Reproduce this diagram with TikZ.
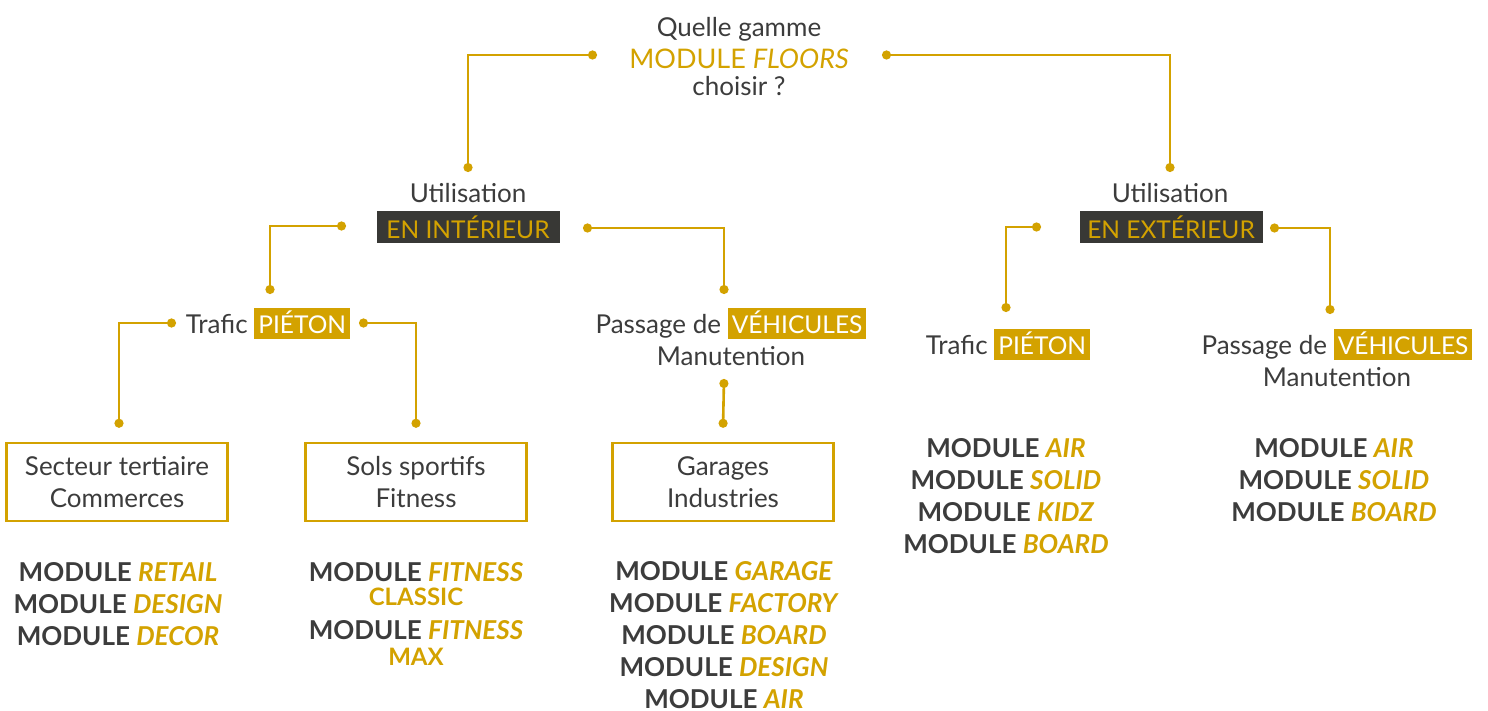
\documentclass[tikz,border=0pt]{standalone}
\usepackage{fontspec}
\setmainfont{Lato}
\usetikzlibrary{arrows.meta}
\definecolor{gold}{RGB}{211,162,0}
\definecolor{ink}{RGB}{60,60,60}
\definecolor{slate}{RGB}{56,56,53}
\newcommand{\hl}[1]{{\setlength{\fboxsep}{0pt}\colorbox{gold}{\hspace{4pt}\rule[-6pt]{0pt}{31pt}\fontsize{24.5}{32}\selectfont\color{white}#1\hspace{4pt}}}}
\newcommand{\modline}[1]{MODULE \textcolor{gold}{\textit{#1}}}
\newcommand{\subline}[1]{{\fontsize{24}{28}\selectfont\textcolor{gold}{#1}}}

\begin{document}
\begin{tikzpicture}[x=1pt,y=-1pt]
\tikzstyle{link}=[draw=gold, line width=2.6pt, {Circle[length=9pt]}-{Circle[length=9pt]}]
\tikzstyle{txt}=[text=ink, inner sep=0pt, align=center, font=\fontsize{26}{32}\selectfont]
\tikzstyle{tag}=[fill=slate, text=gold, inner sep=0pt, minimum width=183pt, minimum height=32pt, font=\fontsize{24.5}{32}\selectfont]
\tikzstyle{case}=[draw=gold, line width=2.5pt, text=ink, align=center, minimum width=221pt, minimum height=78pt, font=\fontsize{26}{32}\selectfont]
\tikzstyle{modlist}=[text=ink, inner sep=0pt, align=center, anchor=north, font=\bfseries\fontsize{26}{32}\selectfont]
\useasboundingbox (0,0) rectangle (1488,711);
\node[txt, anchor=base] (ask) at (739,37) {Quelle gamme};
\node[txt, anchor=base, text=gold, font=\fontsize{27}{32}\selectfont] (floors) at (739,69) {MODULE \textit{FLOORS}};
\node[txt, anchor=base] (pick) at (739,96) {choisir ?};
\node[txt, anchor=base] (useA) at (468,203) {Utilisation};
\node[tag] (inA) at (468,227) {EN INTÉRIEUR};
\node[txt, anchor=base] (useB) at (1170,203) {Utilisation};
\node[tag] (inB) at (1171,227) {EN EXTÉRIEUR};
\node[txt, anchor=north] (trafA) at (268,308) {Trafic \hl{PIÉTON}};
\node[txt, anchor=north] (passA) at (731,308) {Passage de \hl{VÉHICULES}\\Manutention};
\node[txt, anchor=north] (trafB) at (1008,329) {Trafic \hl{PIÉTON}};
\node[txt, anchor=north] (passB) at (1337,329) {Passage de \hl{VÉHICULES}\\Manutention};
\node[case] (secA) at (117,482) {Secteur tertiaire\\Commerces};
\node[case] (solA) at (416,482) {Sols sportifs\\Fitness};
\node[case] (garA) at (723,482) {Garages\\Industries};
\node[modlist] (secL) at (118,562) {\modline{RETAIL}\\\modline{DESIGN}\\\modline{DECOR}};
\node[modlist] (solL) at (416,562) {\modline{FITNESS}\\[-8pt]\subline{CLASSIC}\\[2pt]\modline{FITNESS}\\[-6pt]\subline{MAX}};
\node[modlist] (garL) at (724,561) {\modline{GARAGE}\\\modline{FACTORY}\\\modline{BOARD}\\\modline{DESIGN}\\\modline{AIR}};
\node[modlist] (extL) at (1006,438) {\modline{AIR}\\\modline{SOLID}\\\modline{KIDZ}\\\modline{BOARD}};
\node[modlist] (extR) at (1334,438) {\modline{AIR}\\\modline{SOLID}\\\modline{BOARD}};
\draw[link] ([xshift=-142pt,yshift=14pt]floors.base) -| ([yshift=31pt]useA.base);
\draw[link] ([xshift=143pt,yshift=14pt]floors.base) -| ([yshift=31pt]useB.base);
\draw[link] ([xshift=-122pt,yshift=1pt]inA.center) -| ([xshift=2pt,yshift=14pt]trafA.north);
\draw[link] ([xshift=115pt,yshift=-1pt]inA.center) -| ([xshift=-7pt,yshift=14pt]passA.north);
\draw[link] ([xshift=-92pt,yshift=-15pt]trafA.north) -| ([xshift=2pt,yshift=14pt]secA.north);
\draw[link] ([xshift=91pt,yshift=-15pt]trafA.north) -| ([yshift=14pt]solA.north);
\draw[link] ([xshift=-7pt,yshift=-71pt]passA.north) -- ([yshift=14pt]garA.north);
\draw[link] ([xshift=-130pt]inB.center) -| ([xshift=-2pt,yshift=17pt]trafB.north);
\draw[link] ([xshift=99pt,yshift=-1pt]inB.center) -| ([xshift=-7pt,yshift=15pt]passB.north);
\end{tikzpicture}
\end{document}
